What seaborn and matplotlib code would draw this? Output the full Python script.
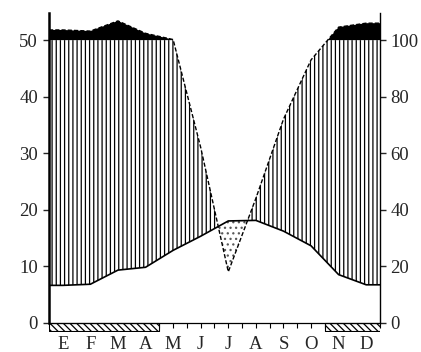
import numpy as np
import matplotlib
matplotlib.use('Agg')
import matplotlib.pyplot as plt
import seaborn as sns

# ---- data ----
months = ['E', 'F', 'M', 'A', 'M', 'J', 'J', 'A', 'S', 'O', 'N', 'D']
temperature = [6.6, 6.8, 9.3, 9.8, 12.8, 15.3, 18.0, 18.1, 16.2, 13.6, 8.5, 6.7]   # °C
precipitation = [136, 132, 168, 124, 102, 62, 18, 44, 72, 93, 146, 160]            # mm
frost = [1, 1, 1, 1, 0, 0, 0, 0, 0, 0, 1, 1]
left_ticks = [0, 10, 20, 30, 40, 50]
right_ticks = [0, 20, 40, 60, 80, 100]

sns.set_style('ticks')
plt.rcParams['font.family'] = ['Liberation Serif', 'DejaVu Serif']
plt.rcParams['hatch.linewidth'] = 0.9

Y_TOP = 54.8
Y_BOT = -1.6
FS = 13.5


def to_axis(p):
    # Walter-Lieth scale: 2 mm per °C up to 100 mm, 20 mm per °C above
    return p / 2.0 if p <= 100 else 50 + (p - 100) / 20.0


fig = plt.figure(figsize=(4.21, 3.52), dpi=100)
ax = fig.add_axes([49 / 421, 1 - 331.7 / 352, (380 - 49) / 421, (331.7 - 13) / 352])

x_c = np.arange(12) + 0.5
xp = np.concatenate([[0], x_c, [12]])
tp = np.concatenate([[temperature[0]], temperature, [temperature[-1]]])
pa = [to_axis(p) for p in precipitation]
pp = np.concatenate([[pa[0]], pa, [pa[-1]]])

xd = np.linspace(0, 12, 4801)
td = np.interp(xd, xp, tp)
pdd = np.interp(xd, xp, pp)

# black area (precip > 100 mm)
ax.fill_between(xd, 50, pdd, where=pdd >= 50, color='black', lw=0, interpolate=True)
# humid period (vertical hatching)
ax.fill_between(xd, td, np.minimum(pdd, 50), where=pdd >= td, facecolor='none',
                edgecolor='black', hatch='||||', lw=0, interpolate=True)
# arid period (dots)
ax.fill_between(xd, pdd, td, where=td > pdd, facecolor='none',
                edgecolor='0.35', hatch='...', lw=0, interpolate=True)

# lines
sns.lineplot(x=xp, y=pp, ax=ax, color='black', lw=1.0, linestyle=(0, (3, 1.5)))
sns.lineplot(x=xp, y=tp, ax=ax, color='black', lw=1.2)

# frost bars
i = 0
while i < 12:
    if frost[i]:
        j = i
        while j < 12 and frost[j]:
            j += 1
        ax.fill_between([i, j], Y_BOT + 0.05, 0, facecolor='white', edgecolor='black',
                        hatch='\\\\\\\\\\', lw=0.8)
        i = j
    else:
        i += 1

ax.set_xlim(0, 12)
ax.set_ylim(Y_BOT, Y_TOP)
ax.set_xticks(x_c)
ax.set_xticklabels(months)
ax.set_xticks(np.arange(0, 13), minor=True)
ax.set_yticks(left_ticks)
ax.set_yticklabels([str(v) for v in left_ticks])
ax.tick_params(axis='x', which='both', direction='out', length=3.5, width=0.8, pad=6,
               labelsize=FS, color='black')
ax.tick_params(axis='y', direction='out', length=4.5, width=1.0, pad=3.5, labelsize=FS)
ax.spines['top'].set_visible(False)
ax.spines['right'].set_visible(False)
ax.spines['bottom'].set_position(('data', 0))
ax.spines['bottom'].set_linewidth(0.9)
ax.spines['left'].set_bounds(0, Y_TOP)
ax.spines['left'].set_linewidth(1.8)
for s in ax.spines.values():
    s.set_color('black')
ax.set_xlabel('')
ax.set_ylabel('')

ax2 = ax.twinx()
ax2.set_ylim(2 * Y_BOT, 2 * Y_TOP)
ax2.set_yticks(right_ticks)
ax2.set_yticklabels([str(v) for v in right_ticks])
ax2.tick_params(axis='y', direction='out', length=4, width=1.0, pad=3.5, labelsize=FS)
for k in ['top', 'left', 'bottom']:
    ax2.spines[k].set_visible(False)
ax2.spines['right'].set_bounds(0, 2 * Y_TOP)
ax2.spines['right'].set_linewidth(1.0)
ax2.spines['right'].set_color('black')

fig.savefig('out.png', dpi=100)
